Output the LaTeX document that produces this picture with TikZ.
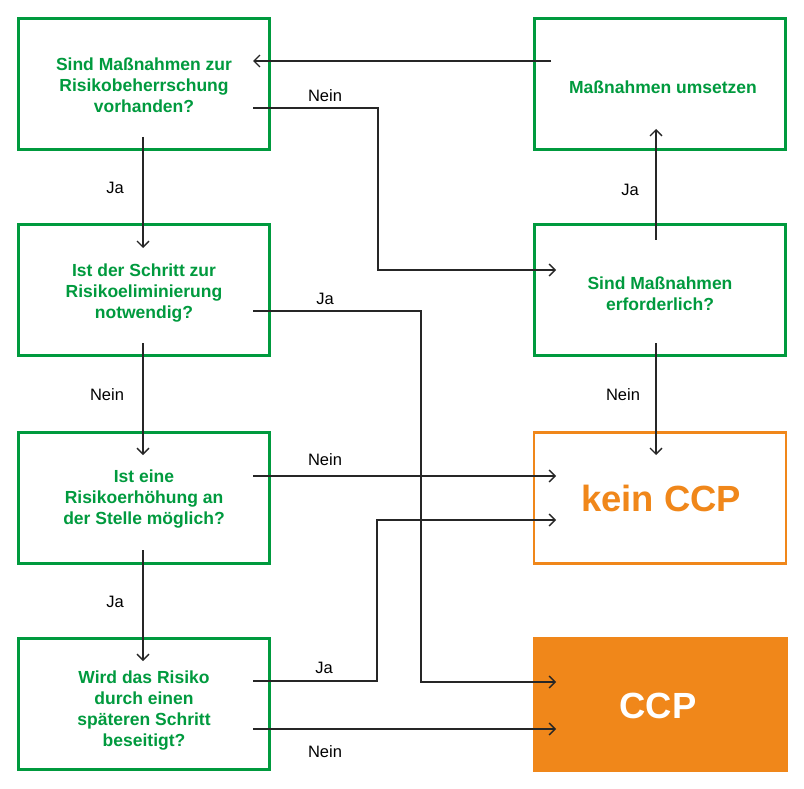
\documentclass[tikz,border=0pt]{standalone}
\usepackage{fontspec}
\setmainfont{Liberation Sans}
\usetikzlibrary{arrows.meta,calc}
\definecolor{hgreen}{RGB}{0,154,62}
\definecolor{horange}{RGB}{240,135,26}
\begin{document}
\begin{tikzpicture}[x=1pt,y=-1pt,
 gbox/.style={draw=hgreen, line width=2.6pt, minimum width=251pt, minimum height=131pt, inner sep=0pt},
 obox/.style={draw=horange, line width=2.4pt, minimum width=252pt, minimum height=131pt, inner sep=0pt},
 fbox/.style={fill=horange, minimum width=255pt, minimum height=135pt, inner sep=0pt},
 qtext/.style={text=hgreen, font=\fontsize{17.5}{21}\selectfont\bfseries, align=center, inner sep=0pt},
 bigtext/.style={font=\fontsize{36.4}{40}\selectfont\bfseries, inner sep=0pt},
 lab/.style={font=\fontsize{16.5}{20}\selectfont, text=black, inner sep=0pt},
 conn/.style={draw=black!85, line width=1.3pt, -{Straight Barb[length=6pt,width=12pt,line width=1.3pt]}},
]
\useasboundingbox (0,0) rectangle (804,789);
\fill[white] (0,0) rectangle (804,789);

% boxes
\node[gbox] (b1) at (144,84) {};
\node[gbox] (b2) at (144,290) {};
\node[gbox] (b3) at (144,498) {};
\node[gbox] (b4) at (144,704) {};
\node[gbox] (mu) at (660,84) {};
\node[gbox] (be) at (660,290) {};
\node[obox] (kein) at (660,498) {};
\node[fbox] (ccp) at (660,704) {};

% texts
\node[qtext] (t1) at (144,85) {Sind Maßnahmen zur\\Risikobeherrschung\\vorhanden?};
\node[qtext] (t2) at (144,293) {Ist der Schritt zur\\Risikoeliminierung\\notwendig?};
\node[qtext] (t3) at (144,499) {Ist eine\\Risikoerhöhung an\\der Stelle möglich?};
\node[qtext] (t4) at (144,711) {Wird das Risiko\\durch einen\\späteren Schritt\\beseitigt?};
\node[qtext] (tmu) at (663,87) {Maßnahmen umsetzen};
\node[qtext] (tbe) at (660,294) {Sind Maßnahmen\\erforderlich?};
\node[bigtext, text=horange] (tkein) at (661,498) {kein CCP};
\node[bigtext, text=white] (tccp) at (658,706) {CCP};

% connectors
\draw[conn] ($(b1.center)+(109,24)$) -- ++(125,0) |- ($(be.center)+(-104,-20)$);
\draw[conn] ($(b1.center)+(-1,53)$) -- ($(b2.center)+(-1,-42)$);
\draw[conn] ($(mu.center)+(-109,-23)$) -- ($(b1.center)+(109,-23)$);
\draw[conn] ($(be.center)+(-4,-50)$) -- ($(mu.center)+(-4,45)$);
\draw[conn] ($(b2.center)+(109,21)$) -- ++(168,0) |- ($(ccp.center)+(-104,-22)$);
\draw[conn] ($(b2.center)+(-1,53)$) -- ($(b3.center)+(-1,-43)$);
\draw[conn] ($(be.center)+(-4,53)$) -- ($(kein.center)+(-4,-43)$);
\draw[conn] ($(b3.center)+(109,-22)$) -- ($(kein.center)+(-104,-22)$);
\draw[conn] ($(b3.center)+(-1,52)$) -- ($(b4.center)+(-1,-43)$);
\draw[conn] ($(b4.center)+(109,-23)$) -- ++(124,0) |- ($(kein.center)+(-104,22)$);
\draw[conn] ($(b4.center)+(109,25)$) -- ($(ccp.center)+(-104,25)$);

% labels
\node[lab] (l1) at (325,96) {Nein};
\node[lab] (l2) at (115,188) {Ja};
\node[lab] (l3) at (630,190) {Ja};
\node[lab] (l4) at (325,299) {Ja};
\node[lab] (l5) at (107,395) {Nein};
\node[lab] (l6) at (623,395) {Nein};
\node[lab] (l7) at (325,460) {Nein};
\node[lab] (l8) at (115,602) {Ja};
\node[lab] (l9) at (324,668) {Ja};
\node[lab] (l10) at (325,752) {Nein};
\end{tikzpicture}
\end{document}
